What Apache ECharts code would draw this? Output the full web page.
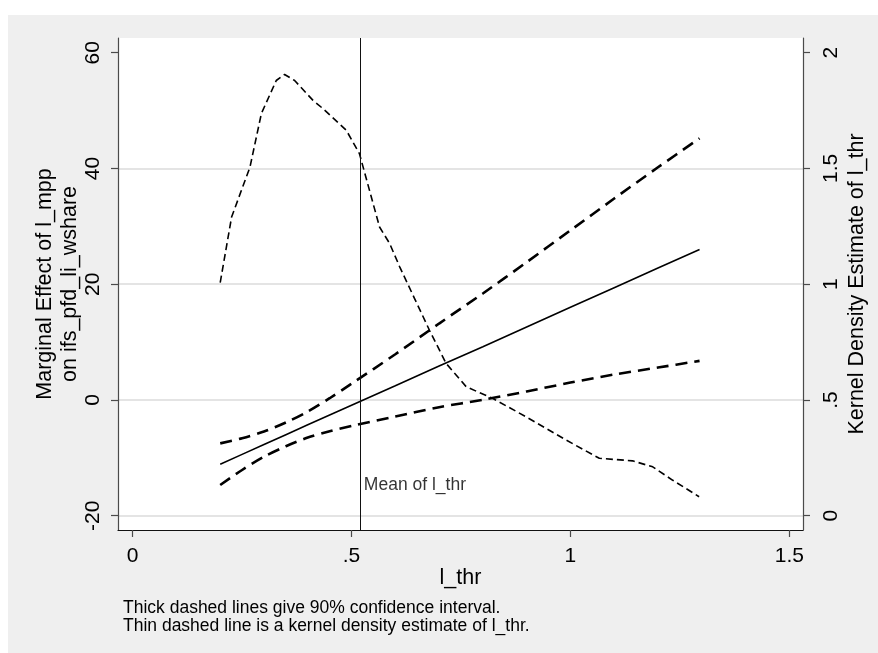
<!DOCTYPE html>
<html>
<head>
<meta charset="utf-8">
<title>Marginal effect of l_mpp on ifs_pfd_li_wshare</title>
<script src="https://cdn.jsdelivr.net/npm/echarts@6/dist/echarts.min.js"></script>
<style>
  html, body { margin: 0; padding: 0; background: #ffffff; }
  #frame { position: absolute; left: 8px; top: 15px; width: 870px; height: 638px; background: #efefef; }
  #chart { position: absolute; left: 0; top: 0; width: 878px; height: 653px; }
</style>
</head>
<body>
<div id="frame"></div>
<div id="chart"></div>
<script>
// l_thr values at which the marginal effect is evaluated
const thrGrid = [0.2, 0.25, 0.3, 0.35, 0.4, 0.45, 0.5, 0.6, 0.7, 0.8, 0.9, 1.0, 1.1, 1.2, 1.295];
// marginal effect of l_mpp on ifs_pfd_li_wshare
const marginalEffect = [-11.1, -9.4, -7.7, -6.0, -4.3, -2.6, -0.9, 2.45, 5.85, 9.2, 12.6, 16.0, 19.4, 22.8, 26.0];
// 90% confidence bounds
const ciUpper = [-7.5, -6.6, -5.45, -3.9, -2.0, 0.3, 2.8, 7.9, 13.2, 18.4, 23.8, 29.3, 34.8, 40.2, 45.2];
const ciLower = [-14.7, -12.1, -9.8, -8.0, -6.5, -5.4, -4.5, -2.85, -1.25, 0.02, 1.47, 3.0, 4.4, 5.6, 6.75];

// kernel density estimate of l_thr
const densityX = [0.2, 0.226, 0.268, 0.294, 0.328, 0.347, 0.37, 0.412, 0.435, 0.488, 0.518,
                  0.564, 0.587, 0.61, 0.644, 0.678, 0.716, 0.762, 0.822, 0.899, 0.99,
                  1.066, 1.142, 1.188, 1.233, 1.294];
const densityY = [1.007, 1.29, 1.506, 1.737, 1.88, 1.906, 1.88, 1.794, 1.758, 1.665, 1.564,
                  1.247, 1.176, 1.075, 0.938, 0.801, 0.658, 0.557, 0.507, 0.427, 0.327,
                  0.248, 0.237, 0.211, 0.154, 0.082];

// mean of l_thr
const meanThr = 0.519;

// axis ticks and reference grid lines
const xTicks = [0, 0.5, 1, 1.5];
const leftTicks = [-20, 0, 20, 40, 60];
const rightTicks = [0, 0.5, 1, 1.5, 2];
const gridLevels = [-20, 0, 20, 40];

// ---- layout / style ----
const FONT = '"Liberation Sans", Arial, Helvetica, sans-serif';
const INK = '#000000';
const AXIS_GRAY = '#4a4a4a';
const GRID_GRAY = '#e4e4e4';
const MEAN_LABEL_Y = -14.8;   // vertical placement of the mean annotation (left-axis units)

// Left axis range (plot region padding beyond -20..60); right axis is the same span mapped to density
const LEFT_MIN = -22.47, LEFT_MAX = 62.54;
const RIGHT_MIN = (LEFT_MIN + 20) / 40, RIGHT_MAX = (LEFT_MAX + 20) / 40;

function stataNum(v) {
  if (v === 0) return '0';
  let s = String(+v.toFixed(6));
  return s.replace(/^0\./, '.').replace(/^-0\./, '-.');
}

const zip = (xs, ys) => xs.map((x, i) => [x, ys[i]]);
const dashedThick = { color: INK, width: 2.6, type: [12, 7] };

const chart = echarts.init(document.getElementById('chart'), null, { renderer: 'canvas' });

const option = {
  animation: false,
  backgroundColor: 'transparent',
  textStyle: { fontFamily: FONT, color: INK },
  grid: {
    left: 118, top: 38, width: 686, height: 492,
    show: true, backgroundColor: '#ffffff', borderWidth: 0,
    containLabel: false
  },
  xAxis: {
    type: 'value',
    min: -0.0335, max: 1.5313,
    name: 'l_thr',
    nameLocation: 'middle',
    nameGap: 37,
    nameMoveOverlap: false,
    nameTextStyle: { fontFamily: FONT, fontSize: 21.5, color: INK },
    axisLine: { show: true, onZero: false, lineStyle: { color: '#111', width: 1.2 } },
    axisTick: { show: true, length: 7, inside: false, customValues: xTicks, lineStyle: { color: AXIS_GRAY, width: 1.2 } },
    axisLabel: {
      show: true, customValues: xTicks, margin: 16,
      fontFamily: FONT, fontSize: 21, color: INK,
      formatter: v => stataNum(v)
    },
    splitLine: { show: false }
  },
  yAxis: [
    {
      type: 'value',
      position: 'left',
      min: LEFT_MIN, max: LEFT_MAX,
      name: 'Marginal Effect of l_mpp\non ifs_pfd_li_wshare',
      nameLocation: 'middle',
      nameRotate: 90,
      nameGap: 35.5,
      nameMoveOverlap: false,
      nameTextStyle: { fontFamily: FONT, fontSize: 21.5, color: INK, lineHeight: 25, align: 'center' },
      axisLine: { show: true, onZero: false, lineStyle: { color: AXIS_GRAY, width: 1.2 } },
      axisTick: { show: true, length: 7, customValues: leftTicks, lineStyle: { color: AXIS_GRAY, width: 1.2 } },
      axisLabel: {
        show: true, customValues: leftTicks, rotate: 90, margin: 14,
        fontFamily: FONT, fontSize: 21, color: INK,
        formatter: v => stataNum(v)
      },
      splitLine: { show: false }
    },
    {
      type: 'value',
      position: 'right',
      min: RIGHT_MIN, max: RIGHT_MAX,
      name: 'Kernel Density Estimate of l_thr',
      nameLocation: 'middle',
      nameRotate: 90,
      nameGap: 42,
      nameMoveOverlap: false,
      nameTextStyle: { fontFamily: FONT, fontSize: 21.5, color: INK, lineHeight: 25 },
      axisLine: { show: true, onZero: false, lineStyle: { color: AXIS_GRAY, width: 1.2 } },
      axisTick: { show: true, length: 7, customValues: rightTicks, lineStyle: { color: AXIS_GRAY, width: 1.2 } },
      axisLabel: {
        show: true, customValues: rightTicks, rotate: 90, margin: 18,
        fontFamily: FONT, fontSize: 21, color: INK,
        formatter: v => stataNum(v)
      },
      splitLine: { show: false }
    },
    {
      // carries only the horizontal grid lines
      type: 'value',
      position: 'left',
      min: LEFT_MIN, max: LEFT_MAX,
      axisLine: { show: false, onZero: false },
      axisTick: { show: false, customValues: gridLevels },
      axisLabel: { show: false, customValues: gridLevels },
      splitLine: { show: true, lineStyle: { color: GRID_GRAY, width: 2 } }
    }
  ],
  graphic: [
    {
      type: 'text',
      left: 123, top: 599.5,
      style: {
        text: 'Thick dashed lines give 90% confidence interval.\nThin dashed line is a kernel density estimate of l_thr.',
        font: '17.5px ' + FONT,
        lineHeight: 17.5,
        fill: INK
      }
    }
  ],
  series: [
    {
      name: 'Upper 90% CI',
      type: 'line',
      yAxisIndex: 0,
      data: zip(thrGrid, ciUpper),
      showSymbol: false, symbol: 'none', smooth: 0.3,
      lineStyle: dashedThick,
      z: 3
    },
    {
      name: 'Lower 90% CI',
      type: 'line',
      yAxisIndex: 0,
      data: zip(thrGrid, ciLower),
      showSymbol: false, symbol: 'none', smooth: 0.3,
      lineStyle: dashedThick,
      z: 3
    },
    {
      name: 'Marginal effect',
      type: 'line',
      yAxisIndex: 0,
      data: zip(thrGrid, marginalEffect),
      showSymbol: false, symbol: 'none',
      lineStyle: { color: INK, width: 1.6, type: 'solid' },
      z: 3,
      markLine: {
        silent: true,
        symbol: ['none', 'none'],
        label: { show: false },
        lineStyle: { color: '#111', width: 1, type: 'solid' },
        data: [{ xAxis: meanThr }]
      }
    },
    {
      name: 'Kernel density of l_thr',
      type: 'line',
      yAxisIndex: 1,
      data: zip(densityX, densityY),
      showSymbol: false, symbol: 'none', smooth: false,
      lineStyle: { color: INK, width: 1.6, type: [7, 4] },
      z: 3
    },
    {
      name: 'Mean label',
      type: 'scatter',
      yAxisIndex: 0,
      data: [[meanThr, MEAN_LABEL_Y]],
      symbolSize: 0,
      label: {
        show: true, position: 'right', distance: 4,
        formatter: 'Mean of l_thr',
        fontFamily: FONT, fontSize: 17.5, color: INK
      },
      silent: true,
      z: 4
    }
  ]
};

chart.setOption(option);
</script>
</body>
</html>
